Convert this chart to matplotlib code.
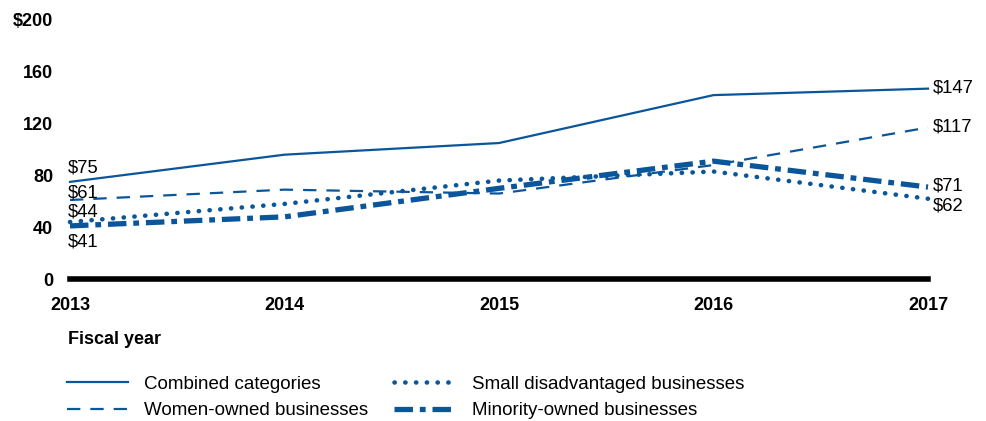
import matplotlib.pyplot as plt

plt.rcParams['font.family'] = ['Liberation Sans', 'DejaVu Sans']

# Data (dollars in millions)
years = [2013, 2014, 2015, 2016, 2017]
combined = [75, 96, 105, 142, 147]
women = [61, 69, 66, 88, 117]
small_disadv = [44, 58, 76, 83, 62]
minority = [41, 48, 70, 91, 71]

y_ticks = [0, 40, 80, 120, 160, 200]
y_tick_labels = ['0', '40', '80', '120', '160', '$200']

blue = '#0b559b'

fig = plt.figure(figsize=(9.87, 4.21), dpi=100)
ax = fig.add_axes([70 / 987, 1 - 279 / 421, (928 - 70) / 987, (279 - 20) / 421])

ax.plot(years, combined, color=blue, lw=1.6, label='Combined categories', clip_on=False)
ax.plot(years, women, color=blue, lw=1.6, linestyle=(0, (6, 4.5)),
        label='Women-owned businesses', clip_on=False)
ax.plot(years, small_disadv, color=blue, lw=3.3, linestyle=(0, (0.05, 2.3)),
        dash_capstyle='round', label='Small disadvantaged businesses', clip_on=False)
ax.plot(years, minority, color=blue, lw=3.8, linestyle=(0, (3.5, 1.3, 1.1, 1.3)),
        label='Minority-owned businesses', clip_on=False)

# value labels at the ends
px = 0.72
left_labels = [(combined[0], 14), (women[0], 7), (small_disadv[0], 10), (minority[0], -16)]
for v, dy in left_labels:
    ax.annotate(f'${v}', (years[0], v), xytext=(-2 * px, dy * px), textcoords='offset points',
                ha='left', va='center', fontsize=13.3, color='black')
right_labels = [(combined[-1], 1), (women[-1], 0), (minority[-1], 1), (small_disadv[-1], -7)]
for v, dy in right_labels:
    ax.annotate(f'${v}', (years[-1], v), xytext=(5 * px, dy * px), textcoords='offset points',
                ha='left', va='center', fontsize=13.3, color='black')

ax.set_xlim(2013, 2017)
ax.set_ylim(0, 200)
ax.set_xticks(years)
ax.set_xticklabels([str(y) for y in years], fontsize=13, fontweight='bold')
ax.set_yticks(y_ticks)
ax.set_yticklabels(y_tick_labels, fontsize=13, fontweight='bold')
ax.tick_params(length=0, pad=12)
ax.tick_params(axis='x', pad=13)

for s in ['top', 'right', 'left']:
    ax.spines[s].set_visible(False)
ax.spines['bottom'].set_linewidth(4)
ax.spines['bottom'].set_color('black')

fig.text(68 / 987, 1 - 340 / 421, 'Fiscal year', fontsize=13, fontweight='bold',
         ha='left', va='center')

fig.legend(loc='upper left', bbox_to_anchor=(59 / 987, 1 - 368 / 421), ncol=2,
           frameon=False, fontsize=13.5, handlelength=3.3, handletextpad=0.85,
           columnspacing=1.35, labelspacing=0.5, borderaxespad=0)

fig.savefig('out.png', dpi=100)
